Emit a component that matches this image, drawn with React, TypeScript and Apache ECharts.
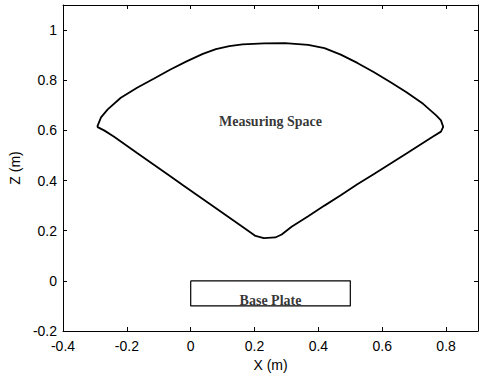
import React, { useEffect, useRef } from "react";
import * as echarts from "echarts";

// Measuring space boundary (X, Z in metres), traced clockwise from the leftmost point
const spaceX = [
  -0.293, -0.281, -0.26, -0.219, -0.168, -0.116, -0.065, -0.013, 0.038, 0.079, 0.121, 0.162,
  0.23, 0.295, 0.368, 0.419, 0.47, 0.522, 0.573, 0.625, 0.676, 0.728, 0.769, 0.784, 0.791,
  0.784, 0.758, 0.676, 0.573, 0.522, 0.47, 0.419, 0.368, 0.316, 0.285, 0.265, 0.229, 0.203,
  0.162, 0.059, -0.023, -0.065, -0.168, -0.24, -0.27, -0.293,
];
const spaceZ = [
  0.614, 0.652, 0.684, 0.73, 0.77, 0.806, 0.842, 0.875, 0.905, 0.924, 0.936, 0.943,
  0.947, 0.948, 0.941, 0.928, 0.902, 0.869, 0.833, 0.793, 0.752, 0.706, 0.66, 0.64, 0.614,
  0.595, 0.575, 0.508, 0.425, 0.385, 0.341, 0.3, 0.258, 0.216, 0.185, 0.173, 0.17, 0.179,
  0.216, 0.307, 0.38, 0.418, 0.51, 0.575, 0.599, 0.614,
];

// Base plate outline
const plateX = [0, 0.5, 0.5, 0, 0];
const plateZ = [0, 0, -0.1, -0.1, 0];

// Annotations
const labelNames = ["Measuring Space", "Base Plate"];
const labelX = [0.25, 0.25];
const labelZ = [0.635, -0.078];

const xTicks = { min: -0.4, max: 0.9, interval: 0.2 };
const zTicks = { min: -0.2, max: 1.1, interval: 0.2 };

export default function App() {
  const ref = useRef<HTMLDivElement>(null);
  useEffect(() => {
    if (!ref.current) return;
    const chart = echarts.init(ref.current, null, { renderer: "svg" });
    const axisLine = { show: true, onZero: false, lineStyle: { color: "#000", width: 1 } };
    const tick = { show: true, inside: true, length: 4, lineStyle: { color: "#000" } };
    const labelStyle = { color: "#000", fontFamily: "Liberation Sans", fontSize: 14 };
    chart.setOption({
      animation: false,
      backgroundColor: "#fff",
      grid: { left: 58, right: 1, top: 5, bottom: 42 },
      xAxis: [
        {
          type: "value",
          ...xTicks,
          position: "bottom",
          axisLine,
          axisTick: tick,
          splitLine: { show: false },
          axisLabel: { ...labelStyle, margin: 8, showMaxLabel: false },
          name: "X (m)",
          nameLocation: "middle",
          nameGap: 27,
          nameTextStyle: labelStyle,
        },
        {
          type: "value",
          ...xTicks,
          position: "top",
          axisLine,
          axisTick: tick,
          splitLine: { show: false },
          axisLabel: { show: false },
        },
      ],
      yAxis: [
        {
          type: "value",
          ...zTicks,
          position: "left",
          axisLine,
          axisTick: tick,
          splitLine: { show: false },
          axisLabel: { ...labelStyle, margin: 6, showMaxLabel: false },
          name: "Z (m)",
          nameLocation: "middle",
          nameRotate: 90,
          nameGap: 39,
          nameTextStyle: labelStyle,
        },
        {
          type: "value",
          ...zTicks,
          position: "right",
          axisLine,
          axisTick: tick,
          splitLine: { show: false },
          axisLabel: { show: false },
        },
      ],
      series: [
        {
          type: "line",
          data: spaceX.map((x, i) => [x, spaceZ[i]]),
          showSymbol: false,
          smooth: false,
          lineStyle: { color: "#000", width: 1.8 },
          silent: true,
        },
        {
          type: "line",
          data: plateX.map((x, i) => [x, plateZ[i]]),
          showSymbol: false,
          lineStyle: { color: "#000", width: 1.2 },
          silent: true,
        },
        {
          type: "scatter",
          symbolSize: 0,
          data: labelNames.map((n, i) => ({ name: n, value: [labelX[i], labelZ[i]] })),
          label: {
            show: true,
            position: "inside",
            formatter: (p: any) => p.name,
            color: "#000",
            fontFamily: "Liberation Serif",
            fontWeight: "bold",
            fontSize: 14,
          },
          silent: true,
        },
      ],
    });
    return () => chart.dispose();
  }, []);
  return (
    <div
      ref={ref}
      style={{ position: "fixed", left: 0, top: 0, width: 479, height: 377 }}
    />
  );
}
